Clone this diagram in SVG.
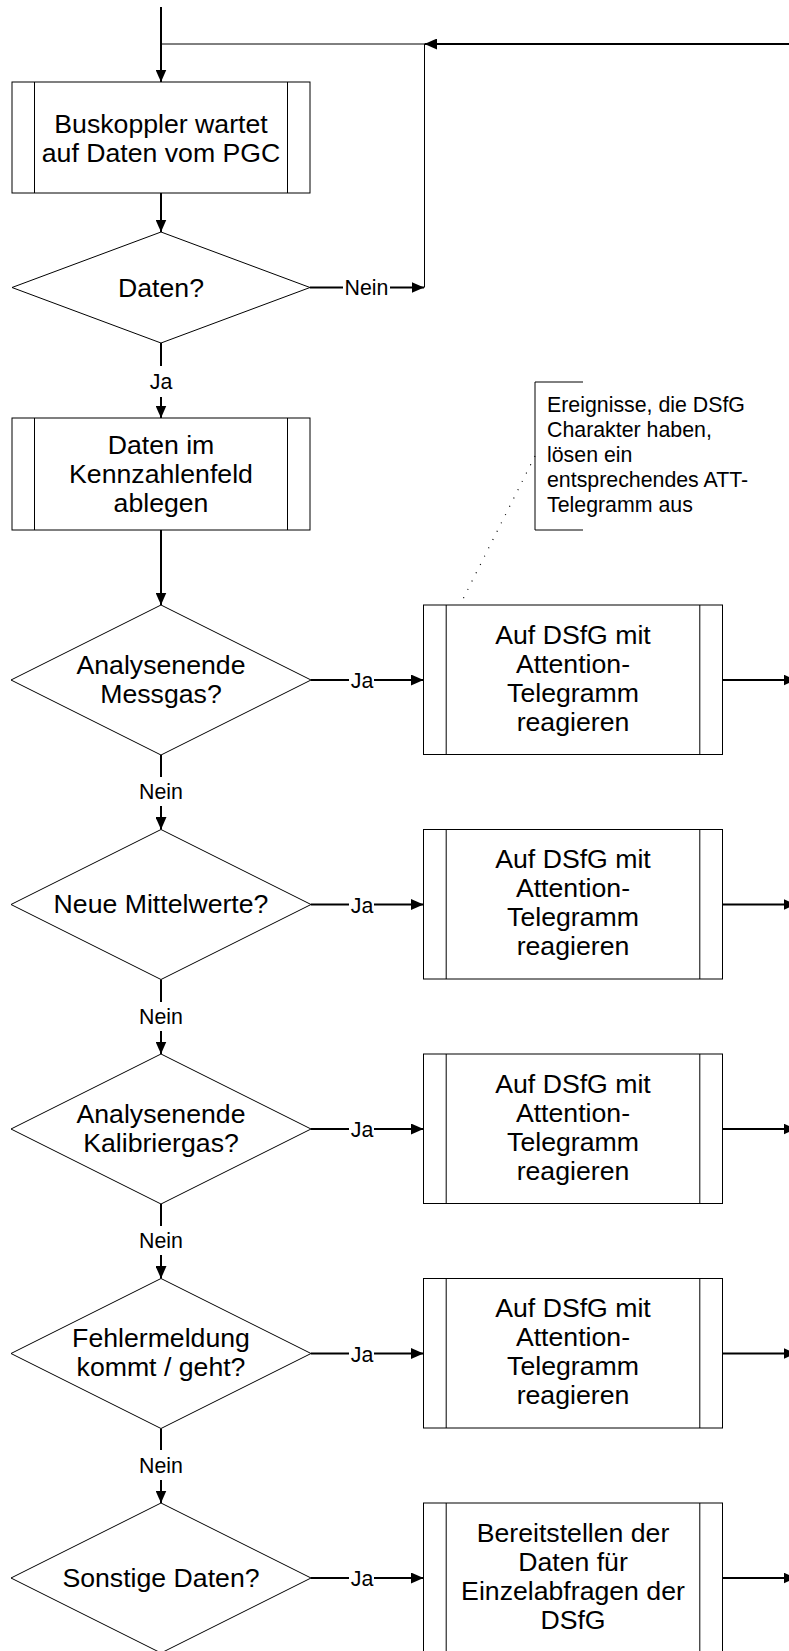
<svg xmlns="http://www.w3.org/2000/svg" width="789" height="1651" viewBox="0 0 789 1651">
<style>
.shape{fill:#fff;stroke:#000;stroke-width:1}
.inner{fill:none;stroke:#000;stroke-width:1}
.conn{fill:none;stroke:#000;stroke-width:2}
.thin{fill:none;stroke:#000;stroke-width:1}
.dot{fill:none;stroke:#000;stroke-width:1.2;stroke-dasharray:1 8.3}
text{font-family:"Liberation Sans",Arial,Helvetica,sans-serif;fill:#000}
.t{font-size:26.67px;text-anchor:middle}
.lbl{font-size:21.33px;text-anchor:middle}
.note{font-size:21.33px;text-anchor:start}
</style>
<defs>
<marker id="ah" markerUnits="userSpaceOnUse" markerWidth="13" markerHeight="11" refX="12.5" refY="5.5" orient="auto">
<path d="M0,0 L12.5,5.5 L0,11 z" fill="#000"/>
</marker>
</defs>
<rect x="0" y="0" width="789" height="1651" fill="#fff"/>

<g id="connectors">
<path class="conn" d="M161,7 V82" marker-end="url(#ah)"/>
<path class="conn" d="M789,44 H424.5" marker-end="url(#ah)"/>
<path class="thin" d="M424.5,44 H161"/>
<path class="thin" d="M424.5,44 V287.5"/>
<path class="conn" d="M161,193 V232" marker-end="url(#ah)"/>
<path class="conn" d="M310,287.5 H343"/>
<text class="lbl" x="366.5" y="295">Nein</text>
<path class="conn" d="M390,287.5 H424" marker-end="url(#ah)"/>
<path class="conn" d="M161,343 V366"/>
<text class="lbl" x="161" y="388.5">Ja</text>
<path class="conn" d="M161,397 V418" marker-end="url(#ah)"/>
<path class="conn" d="M161,530 V605" marker-end="url(#ah)"/>

<path class="conn" d="M311,680 H349"/>
<text class="lbl" x="362" y="688">Ja</text>
<path class="conn" d="M374,680 H423.5" marker-end="url(#ah)"/>
<path class="conn" d="M722.5,680 H796" marker-end="url(#ah)"/>
<path class="conn" d="M161,755 V777"/>
<text class="lbl" x="161" y="798.5">Nein</text>
<path class="conn" d="M161,806 V829.5" marker-end="url(#ah)"/>

<path class="conn" d="M311,904.5 H349"/>
<text class="lbl" x="362" y="912.5">Ja</text>
<path class="conn" d="M374,904.5 H423.5" marker-end="url(#ah)"/>
<path class="conn" d="M722.5,904.5 H796" marker-end="url(#ah)"/>
<path class="conn" d="M161,979.5 V1002"/>
<text class="lbl" x="161" y="1024">Nein</text>
<path class="conn" d="M161,1031 V1054" marker-end="url(#ah)"/>

<path class="conn" d="M311,1129 H349"/>
<text class="lbl" x="362" y="1137">Ja</text>
<path class="conn" d="M374,1129 H423.5" marker-end="url(#ah)"/>
<path class="conn" d="M722.5,1129 H796" marker-end="url(#ah)"/>
<path class="conn" d="M161,1204 V1226"/>
<text class="lbl" x="161" y="1248">Nein</text>
<path class="conn" d="M161,1255 V1278.5" marker-end="url(#ah)"/>

<path class="conn" d="M311,1353.5 H349"/>
<text class="lbl" x="362" y="1361.5">Ja</text>
<path class="conn" d="M374,1353.5 H423.5" marker-end="url(#ah)"/>
<path class="conn" d="M722.5,1353.5 H796" marker-end="url(#ah)"/>
<path class="conn" d="M161,1428.5 V1450"/>
<text class="lbl" x="161" y="1473">Nein</text>
<path class="conn" d="M161,1480 V1503" marker-end="url(#ah)"/>

<path class="conn" d="M311,1578 H349"/>
<text class="lbl" x="362" y="1586">Ja</text>
<path class="conn" d="M374,1578 H423.5" marker-end="url(#ah)"/>
<path class="conn" d="M722.5,1578 H796" marker-end="url(#ah)"/>

<path class="dot" d="M535,456 L460,605"/>
</g>

<g id="n1">
<rect class="shape" x="12" y="82" width="298" height="111"/>
<path class="inner" d="M34.5,82 V193 M287.5,82 V193"/>
<text class="t" x="161" y="132.5">Buskoppler wartet</text>
<text class="t" x="161" y="161.5">auf Daten vom PGC</text>
</g>

<g id="d1">
<polygon class="shape" points="161,232 310,287.5 161,343 12,287.5"/>
<text class="t" x="161" y="297">Daten?</text>
</g>

<g id="n2">
<rect class="shape" x="12" y="418" width="298" height="112"/>
<path class="inner" d="M34.5,418 V530 M287.5,418 V530"/>
<text class="t" x="161" y="453.5">Daten im</text>
<text class="t" x="161" y="482.5">Kennzahlenfeld</text>
<text class="t" x="161" y="511.5">ablegen</text>
</g>

<g id="note">
<path class="thin" d="M583,382 H535 V530 H583"/>
<text class="note" x="547" y="412">Ereignisse, die DSfG</text>
<text class="note" x="547" y="437">Charakter haben,</text>
<text class="note" x="547" y="462">lösen ein</text>
<text class="note" x="547" y="487">entsprechendes ATT-</text>
<text class="note" x="547" y="512">Telegramm aus</text>
</g>

<g id="d2">
<polygon class="shape" points="161,605 311,680 161,755 11,680"/>
<text class="t" x="161" y="673.5">Analysenende</text>
<text class="t" x="161" y="702.5">Messgas?</text>
</g>
<g id="a1">
<rect class="shape" x="423.5" y="605" width="299" height="149.5"/>
<path class="inner" d="M446.2,605 V754.5 M699.8,605 V754.5"/>
<text class="t" x="573" y="643.5">Auf DSfG mit</text>
<text class="t" x="573" y="672.5">Attention-</text>
<text class="t" x="573" y="701.5">Telegramm</text>
<text class="t" x="573" y="730.5">reagieren</text>
</g>

<g id="d3">
<polygon class="shape" points="161,829.5 311,904.5 161,979.5 11,904.5"/>
<text class="t" x="161" y="913">Neue Mittelwerte?</text>
</g>
<g id="a2">
<rect class="shape" x="423.5" y="829.5" width="299" height="149.5"/>
<path class="inner" d="M446.2,829.5 V979 M699.8,829.5 V979"/>
<text class="t" x="573" y="868">Auf DSfG mit</text>
<text class="t" x="573" y="897">Attention-</text>
<text class="t" x="573" y="926">Telegramm</text>
<text class="t" x="573" y="955">reagieren</text>
</g>

<g id="d4">
<polygon class="shape" points="161,1054 311,1129 161,1204 11,1129"/>
<text class="t" x="161" y="1122.5">Analysenende</text>
<text class="t" x="161" y="1151.5">Kalibriergas?</text>
</g>
<g id="a3">
<rect class="shape" x="423.5" y="1054" width="299" height="149.5"/>
<path class="inner" d="M446.2,1054 V1203.5 M699.8,1054 V1203.5"/>
<text class="t" x="573" y="1092.5">Auf DSfG mit</text>
<text class="t" x="573" y="1121.5">Attention-</text>
<text class="t" x="573" y="1150.5">Telegramm</text>
<text class="t" x="573" y="1179.5">reagieren</text>
</g>

<g id="d5">
<polygon class="shape" points="161,1278.5 311,1353.5 161,1428.5 11,1353.5"/>
<text class="t" x="161" y="1347">Fehlermeldung</text>
<text class="t" x="161" y="1376">kommt / geht?</text>
</g>
<g id="a4">
<rect class="shape" x="423.5" y="1278.5" width="299" height="149.5"/>
<path class="inner" d="M446.2,1278.5 V1428 M699.8,1278.5 V1428"/>
<text class="t" x="573" y="1317">Auf DSfG mit</text>
<text class="t" x="573" y="1346">Attention-</text>
<text class="t" x="573" y="1375">Telegramm</text>
<text class="t" x="573" y="1404">reagieren</text>
</g>

<g id="d6">
<polygon class="shape" points="161,1503 311,1578 161,1653 11,1578"/>
<text class="t" x="161" y="1587">Sonstige Daten?</text>
</g>
<g id="a5">
<rect class="shape" x="423.5" y="1503" width="299" height="149.5"/>
<path class="inner" d="M446.2,1503 V1652.5 M699.8,1503 V1652.5"/>
<text class="t" x="573" y="1541.5">Bereitstellen der</text>
<text class="t" x="573" y="1570.5">Daten für</text>
<text class="t" x="573" y="1599.5">Einzelabfragen der</text>
<text class="t" x="573" y="1628.5">DSfG</text>
</g>
</svg>
